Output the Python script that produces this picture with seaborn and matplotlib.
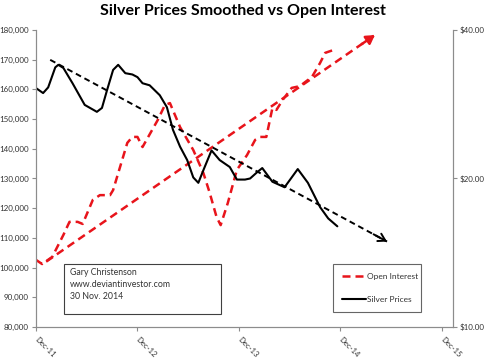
import numpy as np
import matplotlib
matplotlib.use("Agg")
import matplotlib.pyplot as plt
from matplotlib.patches import Rectangle
import seaborn as sns

# years after Dec-2011
oi_t = [0.00, 0.06, 0.16, 0.27, 0.33, 0.41, 0.46, 0.56, 0.63, 0.73, 0.76, 0.90, 0.95, 1.00,
        1.05, 1.20, 1.27, 1.32, 1.42, 1.55, 1.65, 1.71, 1.78, 1.82, 1.89, 1.98, 2.08, 2.16,
        2.21, 2.27, 2.33, 2.37, 2.43, 2.52, 2.60, 2.72, 2.80, 2.85, 2.96]
oi_vals = [102600, 101200, 103600, 111000, 115400, 115400, 114700, 122800, 124400, 124400,
           126100, 142000, 144000, 144000, 140600, 149700, 154700, 155400, 147300, 139600,
           131800, 125400, 117000, 114300, 121700, 132900, 137900, 143000, 144000, 144000,
           153700, 153100, 156400, 160500, 161100, 164200, 168900, 172300, 173600]

silver_t = [0.00, 0.07, 0.12, 0.19, 0.22, 0.27, 0.36, 0.48, 0.60, 0.65, 0.70, 0.76, 0.81,
            0.88, 0.95, 1.00, 1.05, 1.12, 1.22, 1.29, 1.35, 1.42, 1.49, 1.55, 1.60, 1.65,
            1.73, 1.81, 1.91, 1.98, 2.06, 2.11, 2.18, 2.23, 2.33, 2.45, 2.58, 2.68, 2.80,
            2.88, 2.97]
silver_price = [30.5, 29.8, 30.6, 33.6, 34.0, 33.5, 31.2, 28.2, 27.3, 27.8, 30.2, 33.2, 34.0,
                32.7, 32.5, 32.1, 31.2, 30.9, 29.5, 27.9, 25.1, 23.2, 21.8, 20.1, 19.6, 20.8,
                22.8, 21.8, 21.1, 19.9, 19.9, 20.0, 20.6, 21.0, 19.7, 19.2, 20.9, 19.6, 17.5,
                16.6, 16.0]

# trend arrows (start, end)
oi_trend_t = [0.10, 3.34]
oi_trend_vals = [102000, 178300]
silver_trend_t = [0.14, 3.46]
silver_trend_price = [34.8, 14.9]

x_ticks = [0, 1, 2, 3, 4]
x_labels = ["Dec-11", "Dec-12", "Dec-13", "Dec-14", "Dec-15"]
left_ticks = list(range(80000, 180001, 10000))
right_ticks = [10, 20, 40]
right_labels = ["$10.00", "$20.00", "$40.00"]

RED = "#e8141b"
GREY = "#8c8c8c"
TXT = "#333333"

sns.set_style("white")
plt.rcParams["font.family"] = ["Lato", "DejaVu Sans"]

fig = plt.figure(figsize=(4.87, 3.58), dpi=100)
ax = fig.add_axes([36 / 487, 1 - 327 / 358, 417 / 487, 297 / 358])
ax2 = ax.twinx()

# open interest (left axis)
sns.lineplot(x=oi_t, y=oi_vals, ax=ax, color=RED, lw=1.8,
             linestyle=(0, (3.2, 2.0)), label="Open Interest", legend=False)
sns.lineplot(x=oi_trend_t, y=oi_trend_vals, ax=ax, color=RED, lw=1.8,
             linestyle=(0, (3.2, 2.0)), legend=False)
f = 0.96
ax.annotate("", xy=(oi_trend_t[1], oi_trend_vals[1]),
            xytext=(oi_trend_t[0] + f * (oi_trend_t[1] - oi_trend_t[0]),
                    oi_trend_vals[0] + f * (oi_trend_vals[1] - oi_trend_vals[0])),
            arrowprops=dict(arrowstyle="-|>,head_length=0.5,head_width=0.3",
                            color=RED, lw=1.8, shrinkA=0, shrinkB=0))

# silver prices (right axis, log)
sns.lineplot(x=silver_t, y=silver_price, ax=ax2, color="black", lw=1.5,
             label="Silver Prices", legend=False)
sns.lineplot(x=silver_trend_t, y=silver_trend_price, ax=ax2, color="black", lw=1.4,
             linestyle=(0, (3.0, 2.0)), legend=False)
lp0, lp1 = np.log(silver_trend_price)
ax2.annotate("", xy=(silver_trend_t[1], silver_trend_price[1]),
             xytext=(silver_trend_t[0] + f * (silver_trend_t[1] - silver_trend_t[0]),
                     np.exp(lp0 + f * (lp1 - lp0))),
             arrowprops=dict(arrowstyle="->,head_length=0.5,head_width=0.3",
                             color="black", lw=1.4, shrinkA=0, shrinkB=0))

ax.set_xlim(0, 4.11)
ax.set_ylim(80000, 180000)
ax.set_yticks(left_ticks)
ax.set_yticklabels([f"{v:,}" for v in left_ticks])
ax.set_xticks(x_ticks)
ax.set_xticklabels(x_labels, rotation=-45, ha="left", va="center", rotation_mode="anchor")

ax2.set_yscale("log")
ax2.set_ylim(10, 40)
ax2.set_yticks(right_ticks)
ax2.set_yticklabels(right_labels)
ax2.minorticks_off()

for a in (ax, ax2):
    for s in a.spines.values():
        s.set_color(GREY)
        s.set_linewidth(0.8)
    a.spines["top"].set_visible(False)
    a.tick_params(colors=GREY, labelcolor=TXT, labelsize=5.8, length=3, width=0.8,
                  direction="out", pad=2)
    a.set_xlabel("")
    a.set_ylabel("")
ax.tick_params(axis="x", labelsize=5.5, pad=5)
ax.tick_params(left=True, bottom=True)
ax2.tick_params(right=True)

# info box
ax.add_patch(Rectangle((28 / 417, 13 / 297), 157 / 417, 50 / 297, transform=ax.transAxes,
                       fill=True, facecolor="white", edgecolor="#404040", lw=0.8, zorder=5))
ax.text(34 / 417, 59 / 297, "Gary Christenson\nwww.deviantinvestor.com\n30 Nov. 2014",
        transform=ax.transAxes, fontsize=6.3, color=TXT, va="top", ha="left",
        linespacing=1.45, zorder=6)

h1, l1 = ax.get_legend_handles_labels()
h2, l2 = ax2.get_legend_handles_labels()
leg = ax2.legend(h1 + h2, l1 + l2, loc="upper left",
                 bbox_to_anchor=(297 / 417, 63 / 297, 88 / 417, 0), mode="expand",
                 fontsize=6, frameon=True, fancybox=False, edgecolor="#404040",
                 labelspacing=1.9, handlelength=2.8, borderpad=1.1, handletextpad=0.2,
                 borderaxespad=0)
leg.get_frame().set_linewidth(0.8)
for t in leg.get_texts():
    t.set_color(TXT)

fig.text(243 / 487, 1 - 11 / 358, "Silver Prices Smoothed vs Open Interest",
         ha="center", va="center", fontsize=11.5, fontweight="bold", color="black")

fig.savefig("out.png", dpi=100)
